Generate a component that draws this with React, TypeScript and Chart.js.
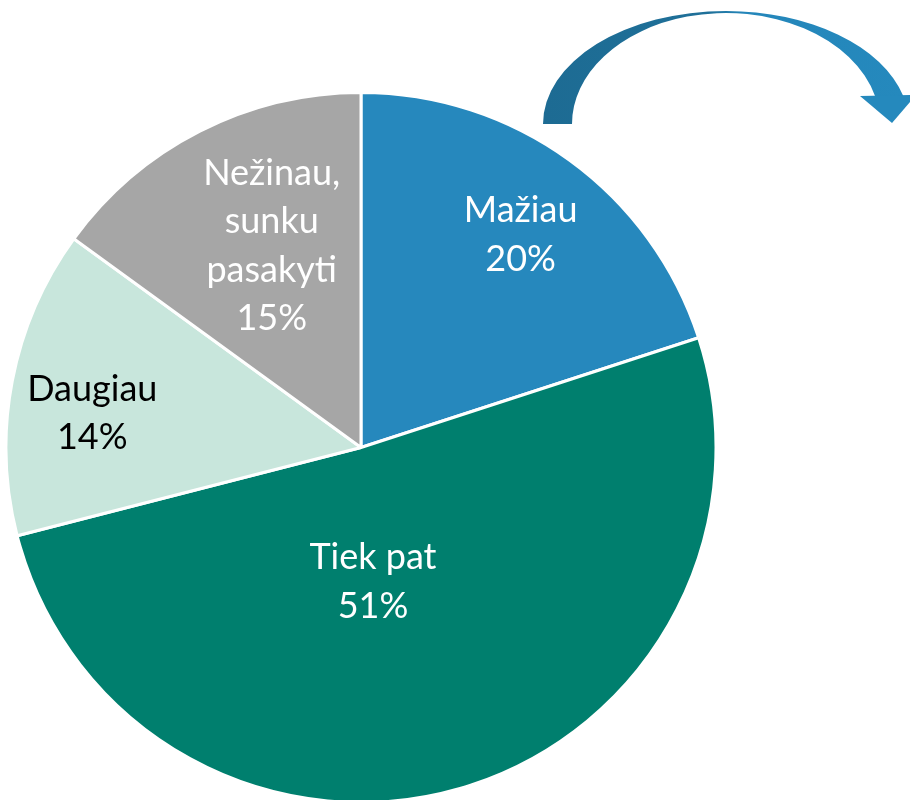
import React, { useEffect, useRef } from "react";
import { Chart, registerables } from "chart.js";

Chart.register(...registerables);

const categories = ["Mažiau", "Tiek pat", "Daugiau", "Nežinau, sunku pasakyti"];
const values = [20, 51, 14, 15];
const labelLines = [
  ["Mažiau", "20%"],
  ["Tiek pat", "51%"],
  ["Daugiau", "14%"],
  ["Nežinau,", "sunku", "pasakyti", "15%"],
];
const sliceColors = ["#2688BD", "#007F6E", "#C8E6DC", "#A6A6A6"];
const labelColors = ["#FFFFFF", "#FFFFFF", "#000000", "#FFFFFF"];
// label placement: [angle shift from slice middle (deg), radius fraction]
const labelPlacement = [
  [0.9, 0.749],
  [11.1, 0.38],
  [-3.6, 0.763],
  [3.1, 0.621],
];

const FONT = "Lato, 'Open Sans', sans-serif";
const FONT_SIZE = 36;
const LINE_H = 48.5;

const labelPlugin = {
  id: "sliceLabels",
  afterDatasetsDraw(chart: any) {
    const ctx = chart.ctx;
    const meta = chart.getDatasetMeta(0);
    ctx.save();
    ctx.font = `${FONT_SIZE}px ${FONT}`;
    ctx.textAlign = "center";
    ctx.textBaseline = "middle";
    meta.data.forEach((arc: any, i: number) => {
      const p = arc.getProps(["x", "y", "startAngle", "endAngle", "outerRadius"], true);
      const mid = (p.startAngle + p.endAngle) / 2 + (labelPlacement[i][0] * Math.PI) / 180;
      const r = p.outerRadius * labelPlacement[i][1];
      const cx = p.x + Math.cos(mid) * r;
      const cy = p.y + Math.sin(mid) * r;
      const lines = labelLines[i];
      ctx.fillStyle = labelColors[i];
      const top = cy - ((lines.length - 1) * LINE_H) / 2;
      lines.forEach((t, j) => ctx.fillText(t, cx, top + j * LINE_H));
    });
    ctx.restore();
  },
};

const arrowPlugin = {
  id: "curvedArrow",
  afterDraw(chart: any) {
    const ctx = chart.ctx;
    const cx = 726, cy = 124;
    const orx = 183, ory = 113;
    const irx = 154, iry = 111;
    const endY = 96;
    const aOuter = Math.asin((cy - endY) / ory);
    const aInner = Math.asin((cy - endY) / iry);
    ctx.save();
    const g = ctx.createLinearGradient(543, 0, 910, 0);
    g.addColorStop(0, "#1D6B93");
    g.addColorStop(0.45, "#1F7099");
    g.addColorStop(0.55, "#2486BA");
    g.addColorStop(1, "#2589BD");
    ctx.fillStyle = g;
    ctx.beginPath();
    ctx.ellipse(cx, cy, orx, ory, 0, Math.PI, 2 * Math.PI - aOuter, false);
    ctx.ellipse(cx, cy, irx, iry, 0, 2 * Math.PI - aInner, Math.PI, true);
    ctx.closePath();
    ctx.fill();
    ctx.beginPath();
    ctx.moveTo(860, 96);
    ctx.lineTo(916, 95);
    ctx.lineTo(892, 123);
    ctx.closePath();
    ctx.fillStyle = "#2589BD";
    ctx.fill();
    ctx.restore();
  },
};

export default function App() {
  const ref = useRef<HTMLCanvasElement | null>(null);
  useEffect(() => {
    if (!ref.current) return;
    const chart = new Chart(ref.current, {
      type: "pie",
      data: {
        labels: categories,
        datasets: [
          {
            data: values,
            backgroundColor: sliceColors,
            borderColor: "#FFFFFF",
            borderWidth: 3,
            hoverOffset: 0,
            radius: 355,
          },
        ],
      },
      options: {
        responsive: false,
        animation: false,
        layout: { padding: { left: 4, right: 192, top: 95, bottom: 0 } },
        plugins: {
          legend: { display: false },
          tooltip: { enabled: false },
        },
      },
      plugins: [labelPlugin, arrowPlugin],
    });
    return () => chart.destroy();
  }, []);
  return (
    <div style={{ position: "fixed", left: 0, top: 0, width: 910, height: 800, background: "#fff" }}>
      <canvas ref={ref} width={910} height={800} style={{ width: 910, height: 800 }} />
    </div>
  );
}
